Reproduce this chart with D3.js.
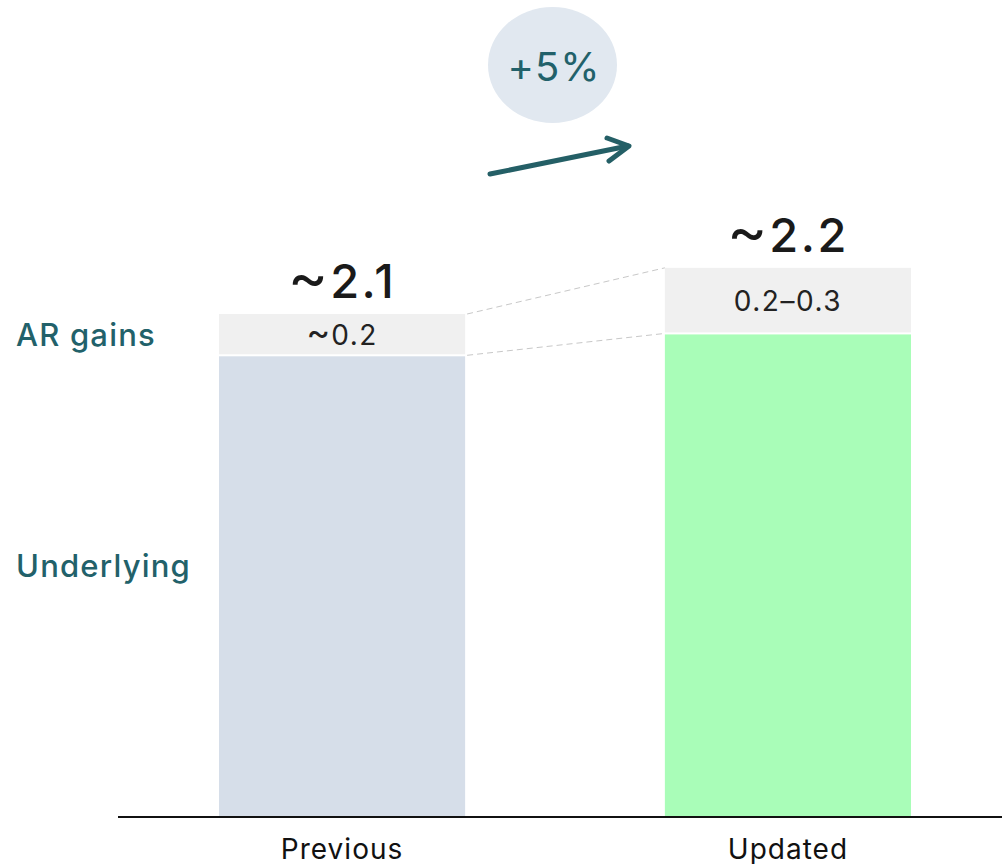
<!DOCTYPE html>
<html lang="en">
<head>
  <meta charset="UTF-8">
  <title>AR gains</title>
  <script src="https://d3js.org/d3.v7.min.js"></script>
  <style>
    body { margin: 0; padding: 0; background: #fff; }
    svg { display: block; font-family: Inter, "Noto Sans", sans-serif; }
  </style>
</head>
<body>
  <svg id="chart"></svg>
  <script>
    // data
    const categories = ['Previous', 'Updated'];
    const underlying = [1.9, 1.99];
    const arGains = [0.17, 0.27];
    const gainLabels = ['~0.2', '0.2–0.3'];
    const totalLabels = ['~2.1', '~2.2'];
    const changeLabel = '+5%';
    const seriesNames = ['AR gains', 'Underlying'];

    const width = 1002;
    const height = 864;
    const baseY = 817;
    const teal = '#22616a';

    const svg = d3.select('#chart')
      .attr('width', width)
      .attr('height', height)
      .attr('viewBox', [0, 0, width, height]);

    const x = d3.scaleBand()
      .domain(categories)
      .range([219, 911])
      .paddingInner(0.448)
      .paddingOuter(0);

    const y = d3.scaleLinear()
      .domain([0, 2.5])
      .range([baseY, baseY - 2.5 * 243]);

    const rows = categories.map((c, i) => ({
      cat: c,
      base: underlying[i],
      gain: arGains[i],
      total: underlying[i] + arGains[i],
      gainLabel: gainLabels[i],
      totalLabel: totalLabels[i]
    }));

    const barColors = ['#d6dee9', '#a9fdb8'];

    // writes a label, drawing a leading "~" a bit larger like the original
    function tildeText(sel, size) {
      sel.each(function (d) {
        const s = d3.select(this);
        if (d.startsWith('~')) {
          s.append('tspan')
            .attr('font-size', size * 1.3)
            .attr('font-weight', 400)
            .attr('letter-spacing', 0)
            .text('~');
          s.append('tspan').attr('dx', size * 0.04).text(d.slice(1));
        } else {
          s.text(d);
        }
      });
    }

    // underlying segments
    svg.append('g')
      .selectAll('rect')
      .data(rows)
      .join('rect')
      .attr('x', d => x(d.cat))
      .attr('width', x.bandwidth())
      .attr('y', d => y(d.base) + 1)
      .attr('height', d => y(0) - y(d.base) - 1)
      .attr('fill', (d, i) => barColors[i]);

    // AR gains segments
    svg.append('g')
      .selectAll('rect')
      .data(rows)
      .join('rect')
      .attr('x', d => x(d.cat))
      .attr('width', x.bandwidth())
      .attr('y', d => y(d.total))
      .attr('height', d => y(d.base) - y(d.total) - 1)
      .attr('fill', '#f0f0f0');

    svg.append('g')
      .selectAll('text')
      .data(rows)
      .join('text')
      .attr('x', d => x(d.cat) + x.bandwidth() / 2)
      .attr('y', d => (y(d.base) + y(d.total)) / 2 + 10)
      .attr('text-anchor', 'middle')
      .attr('font-size', 28)
      .attr('letter-spacing', 1.5)
      .attr('fill', '#222')
      .data(rows.map(r => r.gainLabel))
      .call(tildeText, 28);

    // totals
    svg.append('g')
      .selectAll('text')
      .data(rows)
      .join('text')
      .attr('x', d => x(d.cat) + x.bandwidth() / 2)
      .attr('y', d => y(d.total) - 16)
      .attr('text-anchor', 'middle')
      .attr('font-size', 47)
      .attr('font-weight', 500)
      .attr('letter-spacing', 2.5)
      .attr('fill', '#1a1a1a')
      .data(rows.map(r => r.totalLabel))
      .call(tildeText, 47);

    // dashed connectors between the gains segments
    const a = rows[0], b = rows[1];
    const conn = [[a.total, b.total], [a.base, b.base]];
    svg.append('g')
      .selectAll('line')
      .data(conn)
      .join('line')
      .attr('x1', x(a.cat) + x.bandwidth() + 2)
      .attr('x2', x(b.cat))
      .attr('y1', d => y(d[0]))
      .attr('y2', d => y(d[1]))
      .attr('stroke', '#c8c8c8')
      .attr('stroke-width', 1)
      .attr('stroke-dasharray', '6,4');

    // baseline
    svg.append('line')
      .attr('x1', 118).attr('x2', width)
      .attr('y1', baseY).attr('y2', baseY)
      .attr('stroke', '#111')
      .attr('stroke-width', 2);

    // category labels
    const xAxis = svg.append('g')
      .attr('transform', `translate(0,${baseY})`)
      .call(d3.axisBottom(x).tickSize(0).tickPadding(0));
    xAxis.select('.domain').remove();
    xAxis.selectAll('text')
      .attr('dy', null)
      .attr('y', 42)
      .attr('font-family', 'Inter, "Noto Sans", sans-serif')
      .attr('font-size', 28)
      .attr('letter-spacing', 1)
      .attr('fill', '#111');

    // series labels on the left
    svg.append('text')
      .attr('x', 16)
      .attr('y', (y(a.base) + y(a.total)) / 2 + 11)
      .attr('font-size', 31)
      .attr('font-weight', 500)
      .attr('letter-spacing', 1.2)
      .attr('fill', teal)
      .text(seriesNames[0]);

    svg.append('text')
      .attr('x', 16)
      .attr('y', 577)
      .attr('font-size', 31)
      .attr('font-weight', 500)
      .attr('letter-spacing', 1.2)
      .attr('fill', teal)
      .text(seriesNames[1]);

    // change bubble and arrow
    svg.append('ellipse')
      .attr('cx', 552.5).attr('cy', 65)
      .attr('rx', 64.5).attr('ry', 58)
      .attr('fill', '#e1e8f0');

    svg.append('text')
      .attr('x', 554)
      .attr('y', 81)
      .attr('text-anchor', 'middle')
      .attr('font-size', 40)
      .attr('letter-spacing', 1)
      .attr('fill', teal)
      .text(changeLabel);

    const arrow = svg.append('g')
      .attr('stroke', '#245f66')
      .attr('stroke-width', 5)
      .attr('stroke-linecap', 'round')
      .attr('stroke-linejoin', 'round')
      .attr('fill', 'none');
    arrow.append('line')
      .attr('x1', 490).attr('y1', 174)
      .attr('x2', 628).attr('y2', 146);
    arrow.append('path')
      .attr('d', 'M607,138 L629,146 L609,161');
  </script>
</body>
</html>
